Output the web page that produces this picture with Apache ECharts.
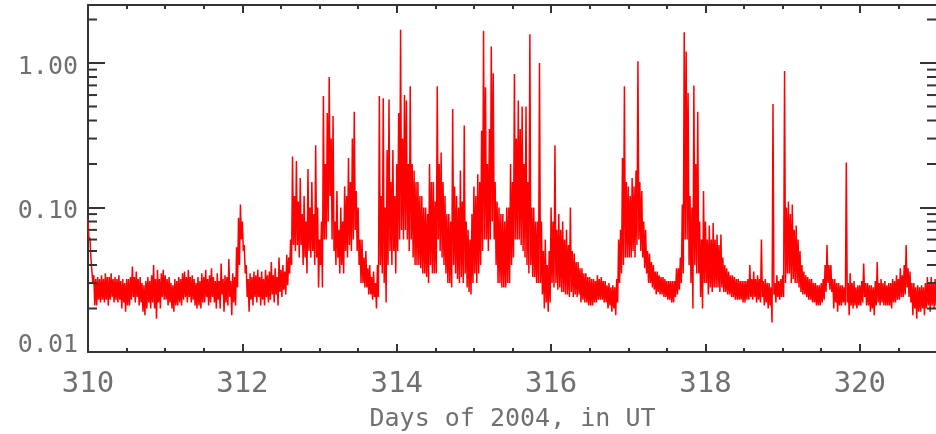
<!DOCTYPE html>
<html>
<head>
<meta charset="utf-8">
<script src="https://cdn.jsdelivr.net/npm/echarts@6/dist/echarts.min.js"></script>
<style>
  html, body { margin: 0; padding: 0; background: #fff; }
  #chart { width: 936px; height: 434px; }
</style>
</head>
<body>
<div id="chart"></div>
<script>
// Flux trace per day of 2004 (UT), in units of 0.001.
// For every STEP-day slot: the upper (hi) and lower (lo) excursion of the signal.
const STEP = 0.025;
const UNIT = 0.001;

const hi310 = [83,62,45,34,32,33,32,34,32,35,33,33,35,32,33,32,34,31,32,30,32,32,33,39,33,36,32,33,30,29,31,33,31,34,40,32,37,32,35,37];
const lo310 = [60,45,30,21,21,23,22,23,22,23,21,23,24,22,23,22,23,20,22,19,21,21,23,24,22,24,21,22,19,18,20,22,20,22,20,17,22,20,24,23];
const hi311 = [34,32,33,30,29,32,31,33,32,35,36,33,37,33,34,32,30,33,31,35,33,37,32,34,38,33,31,35,31,41,32,34,33,44,31,35,33,53,85,105];
const lo311 = [23,21,22,20,19,21,21,22,21,23,24,22,24,22,23,21,20,21,20,22,22,24,21,22,24,22,20,23,20,25,19,22,21,24,18,22,21,28,40,60];
const hi312 = [80,55,40,32,35,33,36,34,37,33,36,32,37,34,36,42,34,38,33,45,37,40,36,47,45,60,225,120,210,110,160,90,120,80,185,100,150,90,270,100];
const lo312 = [50,35,24,19,23,21,24,22,24,21,23,21,24,22,23,25,22,25,21,26,24,27,25,29,35,40,55,50,55,45,55,40,45,35,50,45,50,40,45,28];
const hi313 = [60,80,590,200,450,800,300,430,80,130,70,100,80,140,120,220,150,300,460,130,100,60,60,45,50,38,40,33,36,30,40,590,120,570,100,250,560,150,250,120];
const lo313 = [40,28,60,60,80,120,60,50,40,45,35,40,35,50,45,55,50,60,70,50,40,30,30,28,28,25,25,23,24,20,24,40,35,30,22,40,50,40,50,35];
const hi314 = [200,450,1700,300,600,550,200,690,200,180,150,150,120,120,100,100,90,200,150,150,110,690,200,240,150,120,90,90,80,480,140,120,100,180,110,370,80,70,60,90];
const lo314 = [50,60,70,60,70,60,50,60,45,40,40,40,38,35,35,33,30,40,35,35,35,60,50,45,40,35,30,30,28,40,35,32,30,33,30,35,28,26,25,30];
const hi315 = [140,120,170,150,340,1670,680,200,350,1300,850,150,110,100,90,90,80,100,100,200,150,840,300,550,350,500,200,500,150,1580,100,100,80,80,1000,80,50,60,40,50];
const lo315 = [35,30,35,40,50,60,60,50,60,80,60,40,30,30,28,28,28,30,30,40,45,60,60,60,55,50,45,40,35,40,33,33,30,30,30,25,20,22,19,22];
const hi316 = [100,80,270,70,90,70,80,60,70,55,100,50,48,42,42,38,38,35,35,33,33,32,32,31,34,32,33,31,31,29,30,28,29,28,32,60,70,220,690,150];
const lo316 = [30,28,30,27,28,26,26,25,25,24,26,24,25,24,25,22,23,22,22,21,21,21,22,22,23,23,23,22,22,20,21,19,20,18,22,30,35,40,45,45];
const hi317 = [140,120,160,140,180,1030,150,130,80,70,50,48,42,40,36,36,34,33,33,32,31,31,31,31,31,38,38,45,105,1630,1200,620,120,100,700,200,460,80,60,130];
const lo317 = [45,45,50,45,55,60,50,45,38,35,30,30,28,27,25,26,25,25,24,24,23,23,22,22,24,25,27,30,35,60,60,40,30,20,40,35,35,24,20,30];
const hi318 = [80,60,75,60,78,60,65,55,65,45,40,38,36,34,34,33,32,32,31,31,31,31,32,40,32,36,32,34,32,60,31,32,30,30,28,520,30,34,31,32];
const lo318 = [30,25,28,26,28,28,28,26,28,26,26,25,25,24,24,23,23,23,23,22,22,23,23,24,23,24,22,23,22,24,21,22,20,21,16,25,22,24,23,24];
const hi319 = [34,880,100,110,90,105,70,75,60,50,40,36,34,33,32,32,30,30,29,29,30,32,40,55,40,40,32,32,30,30,29,29,28,205,30,35,30,31,28,29];
const lo319 = [24,30,35,35,30,32,30,30,28,26,25,25,24,23,23,22,22,21,21,21,22,23,26,30,27,26,20,22,19,21,21,22,21,22,18,21,20,21,20,21];
const hi320 = [29,31,41,30,30,29,29,28,31,42,30,32,30,31,29,30,30,32,31,34,32,38,34,40,55,38,36,30,30,28,29,28,29,28,30,33,30,33,30,32];
const lo320 = [21,22,24,21,21,19,20,18,21,22,21,22,21,21,21,21,20,22,22,23,23,24,24,25,28,24,22,18,20,17,19,19,20,18,20,21,19,21,20,21];

const days = [
  [310, hi310, lo310], [311, hi311, lo311], [312, hi312, lo312], [313, hi313, lo313],
  [314, hi314, lo314], [315, hi315, lo315], [316, hi316, lo316], [317, hi317, lo317],
  [318, hi318, lo318], [319, hi319, lo319], [320, hi320, lo320]
];

// Axis ranges and tick labels
const X_MIN = 310, X_MAX = 321, X_INTERVAL = 2;
const Y_MIN = 0.01, Y_MAX = 2.52;
const xTickLabels = ['310', '312', '314', '316', '318', '320'];
const yTickLabels = ['0.01', '0.10', '1.00'];
const yMinorTicks = [0.02, 0.03, 0.04, 0.05, 0.06, 0.07, 0.08, 0.09,
                     0.2, 0.3, 0.4, 0.5, 0.6, 0.7, 0.8, 0.9, 2];
const xTitle = 'Days of 2004, in UT';

const AXIS_COLOR = '#333';
const LABEL_COLOR = '#707070';
const FONT = '"DejaVu Sans Mono", monospace';

// Interleave the upper and lower excursions into one time-ordered trace.
const trace = [];
days.forEach(([d, hi, lo]) => {
  hi.forEach((h, i) => {
    const t = d + i * STEP;
    trace.push([t, h * UNIT]);
    trace.push([t + STEP / 2, lo[i] * UNIT]);
  });
});

const chart = echarts.init(document.getElementById('chart'), null, { renderer: 'canvas' });

const xCommon = {
  type: 'value', min: X_MIN, max: X_MAX, interval: X_INTERVAL,
  axisLine: { show: true, onZero: false, lineStyle: { color: AXIS_COLOR, width: 2 } },
  axisTick: { show: true, inside: true, length: 8, lineStyle: { color: AXIS_COLOR, width: 2 } },
  minorTick: { show: true, splitNumber: 4, length: 4, lineStyle: { color: AXIS_COLOR, width: 2 } },
  splitLine: { show: false }
};

const yCommon = {
  type: 'log', logBase: 10, min: Y_MIN, max: Y_MAX,
  axisLine: { show: true, lineStyle: { color: AXIS_COLOR, width: 2 } },
  axisTick: { show: true, inside: true, length: 17, lineStyle: { color: AXIS_COLOR, width: 2 } },
  splitLine: { show: false }
};

function yLabel(v) {
  const s = yTickLabels.find(t => Math.abs(Math.log10(Number(t)) - Math.log10(v)) < 1e-6);
  if (!s) return '';
  return s === yTickLabels[0] ? '{lo|' + s + '}' : '{hi|' + s + '}';
}

const labelRich = {
  hi: { fontFamily: FONT, fontSize: 25, color: LABEL_COLOR, padding: [8, 0, 0, 0] },
  lo: { fontFamily: FONT, fontSize: 25, color: LABEL_COLOR, padding: [0, 0, 13, 0] }
};

chart.setOption({
  animation: false,
  backgroundColor: '#fff',
  grid: { left: 88, top: 5, width: 849, height: 347, containLabel: false, outerBoundsMode: 'none' },
  xAxis: [
    Object.assign({}, xCommon, {
      position: 'bottom',
      name: xTitle, nameLocation: 'middle', nameGap: 55,
      nameTextStyle: { fontFamily: FONT, fontSize: 25, color: LABEL_COLOR },
      axisLabel: {
        show: true, margin: 18, fontFamily: FONT, fontSize: 29, color: LABEL_COLOR,
        showMaxLabel: false,
        formatter: v => xTickLabels.find(t => Number(t) === v) || ''
      }
    }),
    Object.assign({}, xCommon, { position: 'top', axisLabel: { show: false } })
  ],
  yAxis: [
    Object.assign({}, yCommon, {
      position: 'left',
      axisLabel: { show: true, margin: 10, fontFamily: FONT, fontSize: 25, color: LABEL_COLOR,
                   formatter: yLabel, rich: labelRich }
    }),
    Object.assign({}, yCommon, { position: 'right', axisLabel: { show: false } })
  ],
  series: [
    {
      type: 'line',
      data: trace,
      showSymbol: false,
      symbol: 'none',
      clip: true,
      lineStyle: { color: '#ff0000', width: 1.5 },
      itemStyle: { color: '#ff0000' },
      z: 2
    },
    {
      // minor log ticks on the left and right frame edges
      type: 'custom',
      data: yMinorTicks.map(v => [X_MIN, v]),
      encode: { x: 0, y: 1 },
      silent: true,
      z: 5,
      renderItem: (params, api) => {
        const v = api.value(1);
        const l = api.coord([X_MIN, v]);
        const r = api.coord([X_MAX, v]);
        const st = { stroke: AXIS_COLOR, lineWidth: 2 };
        return {
          type: 'group',
          children: [
            { type: 'line', shape: { x1: l[0], y1: l[1], x2: l[0] + 9, y2: l[1] }, style: st },
            { type: 'line', shape: { x1: r[0] - 10, y1: r[1], x2: r[0], y2: r[1] }, style: st }
          ]
        };
      }
    }
  ]
});
</script>
</body>
</html>
